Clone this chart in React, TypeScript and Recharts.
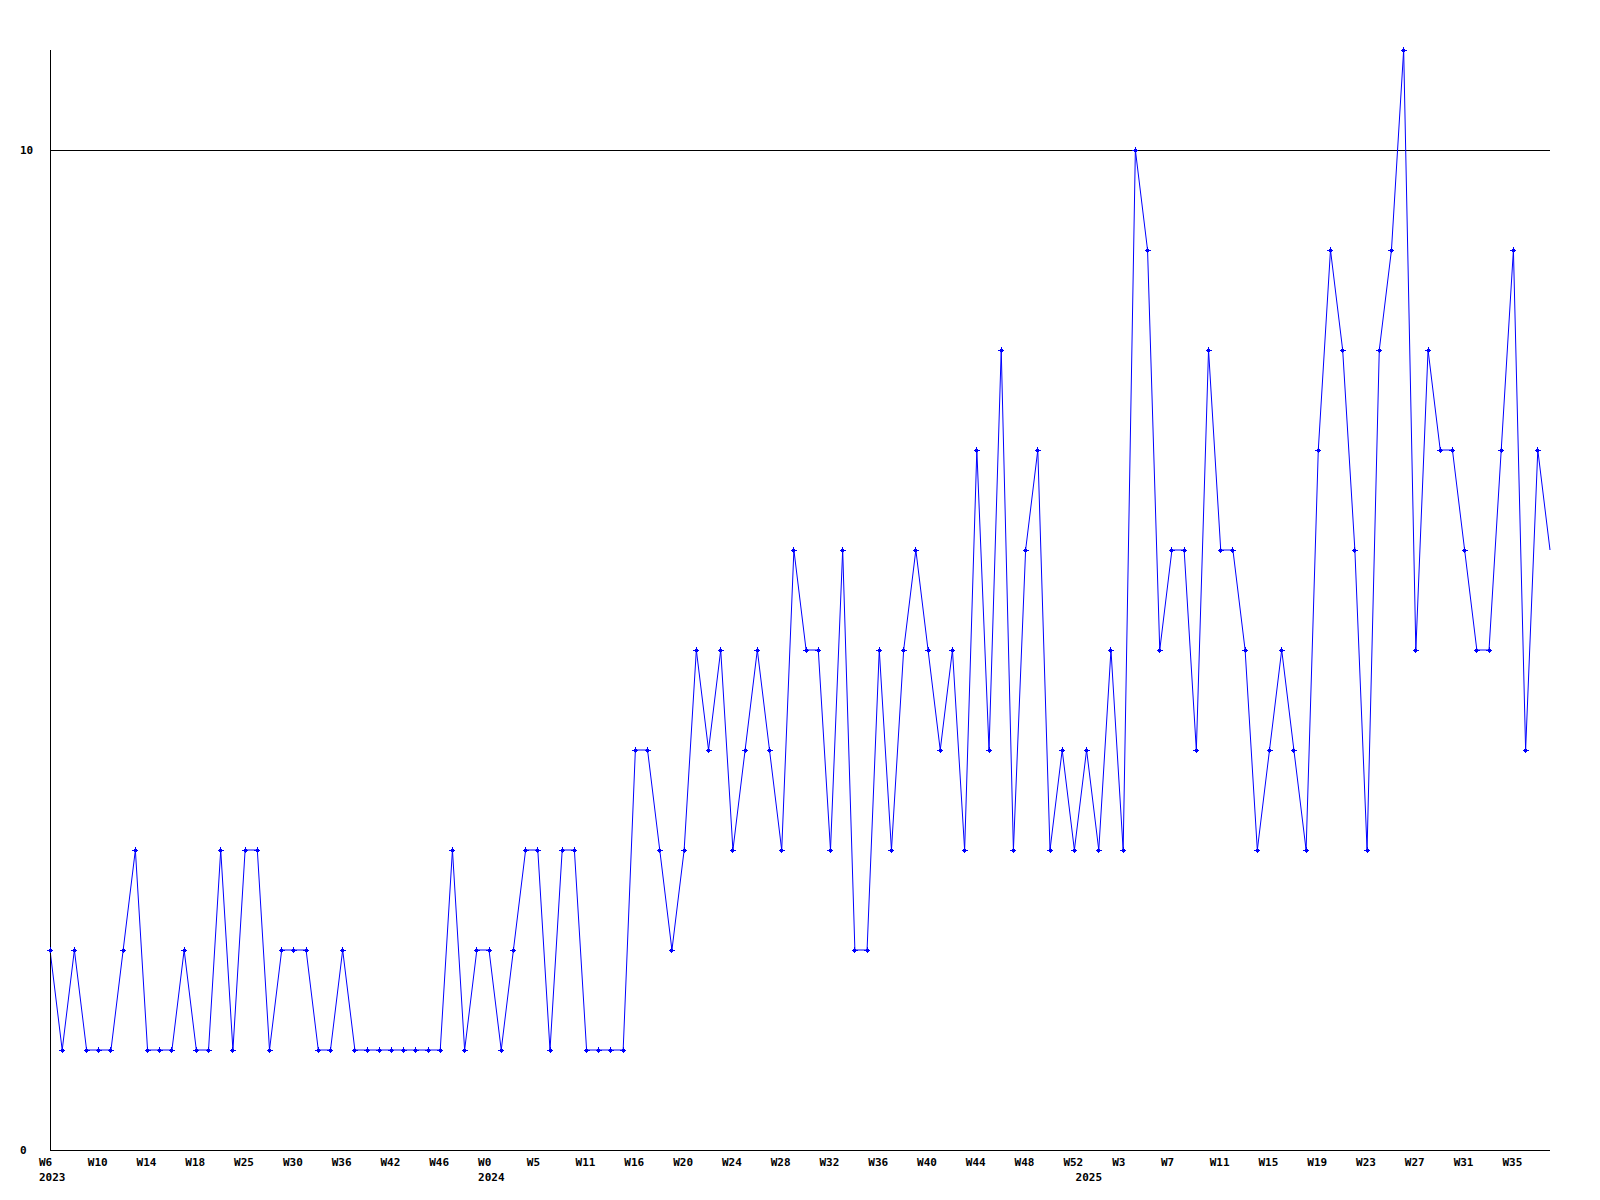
import { LineChart, Line, XAxis, YAxis, ReferenceLine } from "recharts"

// weekly counts, one per point, oldest first
const counts = [
  2, 1, 2, 1, 1, 1, 2, 3, 1, 1, 1, 2, 1, 1, 3, 1, 3, 3, 1, 2,
  2, 2, 1, 1, 2, 1, 1, 1, 1, 1, 1, 1, 1, 3, 1, 2, 2, 1, 2, 3,
  3, 1, 3, 3, 1, 1, 1, 1, 4, 4, 3, 2, 3, 5, 4, 5, 3, 4, 5, 4,
  3, 6, 5, 5, 3, 6, 2, 2, 5, 3, 5, 6, 5, 4, 5, 3, 7, 4, 8, 3,
  6, 7, 3, 4, 3, 4, 3, 5, 3, 10, 9, 5, 6, 6, 4, 8, 6, 6, 5, 3,
  4, 5, 4, 3, 7, 9, 8, 6, 3, 8, 9, 11, 5, 8, 7, 7, 6, 5, 5, 7,
  9, 4, 7, 6,
]

// one label every 4th point
const weekLabels = [
  "W6", "W10", "W14", "W18", "W25", "W30", "W36", "W42", "W46", "W0",
  "W5", "W11", "W16", "W20", "W24", "W28", "W32", "W36", "W40", "W44",
  "W48", "W52", "W3", "W7", "W11", "W15", "W19", "W23", "W27", "W31", "W35",
]

const yearStarts = [
  { index: 0, year: "2023" },
  { index: 36, year: "2024" },
  { index: 85, year: "2025" },
]

const yTicks = [0, 10]

const FONT = "'DejaVu Sans Mono', monospace"
const BLUE = "#0000ff"

const data = counts.map((value, i) => ({ i, value }))

function WeekTick(props: any) {
  const { x, y, payload } = props
  const i = payload.index
  const year = yearStarts.find((d) => d.index === i)
  return (
    <g>
      {i % 4 === 0 && (
        <text x={x - 11} y={y + 16} textAnchor="start" fontFamily={FONT} fontWeight="bold" fontSize={11} fill="#000">
          {weekLabels[i / 4]}
        </text>
      )}
      {year && (
        <text x={x - 11} y={y + 31} textAnchor="start" fontFamily={FONT} fontWeight="bold" fontSize={11} fill="#000">
          {year.year}
        </text>
      )}
    </g>
  )
}

function CountTick(props: any) {
  const { y, payload } = props
  return (
    <text x={20} y={y + 4} textAnchor="start" fontFamily={FONT} fontWeight="bold" fontSize={11} fill="#000">
      {payload.value}
    </text>
  )
}

function Marker(props: any) {
  const { cx, cy, index } = props
  if (index === counts.length - 1 || cx == null) return <g key={index} />
  return (
    <g key={index} shapeRendering="crispEdges">
      <rect x={cx - 1.5} y={cy - 1.5} width={3} height={3} fill={BLUE} />
      <path d={`M${cx - 3},${cy}H${cx + 3}M${cx},${cy - 3}V${cy + 3}`} stroke={BLUE} strokeWidth={1} />
    </g>
  )
}

export default function App() {
  return (
    <div style={{ position: "absolute", left: 0, top: 0, width: 1600, height: 1200, background: "#fff" }}>
      <LineChart width={1600} height={1200} data={data} margin={{ top: 50, right: 50, bottom: 0, left: 0 }}>
        <XAxis
          dataKey="i"
          type="category"
          scale="point"
          interval={0}
          padding={{ left: 0, right: 0 }}
          height={50}
          tickLine={false}
          tickSize={0}
          tickMargin={0}
          axisLine={{ stroke: "#000", strokeWidth: 1, shapeRendering: "crispEdges" }}
          tick={<WeekTick />}
        />
        <YAxis
          domain={[0, 11]}
          ticks={yTicks}
          width={50}
          tickLine={false}
          tickSize={0}
          axisLine={{ stroke: "#000", strokeWidth: 1, shapeRendering: "crispEdges" }}
          tick={<CountTick />}
        />
        <ReferenceLine y={10} stroke="#000" strokeWidth={1} shapeRendering="crispEdges" />
        <Line
          dataKey="value"
          stroke={BLUE}
          strokeWidth={1}
          dot={<Marker />}
          activeDot={false}
          isAnimationActive={false}
        />
      </LineChart>
    </div>
  )
}
